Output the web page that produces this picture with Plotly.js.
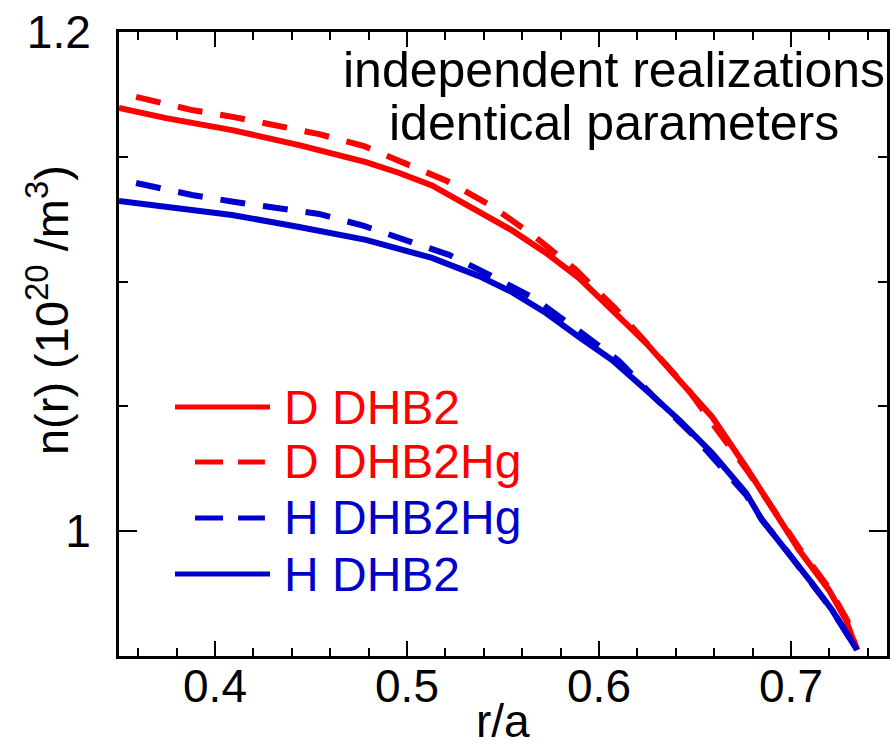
<!DOCTYPE html>
<html>
<head>
<meta charset="utf-8">
<script src="https://cdn.plot.ly/plotly-3.0.1.min.js"></script>
<style>
html,body{margin:0;padding:0;background:#fff;}
#chart{width:890px;height:748px;}
</style>
</head>
<body>
<div id="chart"></div>
<script>
// D DHB2 (red solid)
var dDHB2_x = [0.350, 0.3745, 0.4089, 0.4438, 0.4786, 0.4960, 0.5130, 0.5250, 0.5375, 0.5547, 0.5724, 0.5896, 0.6068, 0.6245, 0.6417, 0.6589, 0.6766, 0.6938, 0.7042, 0.7198, 0.7286, 0.7344];
var dDHB2_y = [1.1696, 1.1655, 1.1607, 1.1547, 1.1479, 1.1435, 1.1385, 1.1335, 1.1279, 1.1205, 1.1115, 1.1014, 1.0886, 1.0754, 1.0606, 1.0458, 1.0257, 1.0045, 0.9925, 0.9764, 0.9644, 0.9524];
// D DHB2Hg (red dashed)
var dDHB2Hg_x = [0.3589, 0.3875, 0.4099, 0.4323, 0.4542, 0.4776, 0.4984, 0.5208, 0.5432, 0.5661, 0.5875, 0.6083, 0.6271, 0.6458, 0.6609, 0.6781, 0.6938, 0.7042, 0.7198, 0.7292, 0.7344];
var dDHB2Hg_y = [1.1740, 1.1688, 1.1659, 1.1623, 1.1591, 1.1543, 1.1476, 1.1403, 1.1307, 1.1183, 1.1050, 1.0894, 1.0734, 1.0574, 1.0413, 1.0233, 1.0053, 0.9933, 0.9772, 0.9644, 0.9524];
// H DHB2Hg (blue dashed)
var hDHB2Hg_x = [0.3589, 0.3880, 0.4104, 0.4333, 0.4542, 0.4776, 0.4984, 0.5219, 0.5432, 0.5661, 0.5875, 0.6104, 0.6281, 0.6479, 0.6766, 0.6849, 0.6974, 0.7109, 0.7214, 0.7344];
var hDHB2Hg_y = [1.1395, 1.1347, 1.1319, 1.1295, 1.1271, 1.1223, 1.1171, 1.1107, 1.1026, 1.0934, 1.0814, 1.0682, 1.0542, 1.0393, 1.0145, 1.0045, 0.9925, 0.9792, 0.9684, 0.9524];
// H DHB2 (blue solid)
var hDHB2_x = [0.350, 0.3745, 0.4089, 0.4438, 0.4786, 0.5130, 0.5375, 0.5547, 0.5724, 0.5896, 0.6068, 0.6245, 0.6417, 0.6589, 0.6766, 0.6849, 0.6974, 0.7109, 0.7214, 0.7344];
var hDHB2_y = [1.1323, 1.1299, 1.1267, 1.1219, 1.1167, 1.1095, 1.1022, 1.0958, 1.0874, 1.0778, 1.0686, 1.0566, 1.0446, 1.0313, 1.0153, 1.0045, 0.9925, 0.9792, 0.9684, 0.9524];

var seriesNames = ['D DHB2', 'D DHB2Hg', 'H DHB2Hg', 'H DHB2'];
var xTitle = 'r/a';
var yTitle = 'n(r) (10<sup>20</sup> /m<sup>3</sup>)';
var noteLines = ['independent realizations', 'identical parameters'];

var RED = '#ff0000', BLUE = '#0000cc';
var FONT = 'Liberation Sans, Arial, Helvetica, sans-serif';

var traces = [
  {x: dDHB2_x, y: dDHB2_y, name: seriesNames[0], mode: 'lines', line: {color: RED, width: 6}},
  {x: dDHB2Hg_x, y: dDHB2Hg_y, name: seriesNames[1], mode: 'lines', line: {color: RED, width: 6, dash: '25px,18px'}},
  {x: hDHB2Hg_x, y: hDHB2Hg_y, name: seriesNames[2], mode: 'lines', line: {color: BLUE, width: 6, dash: '25px,18px'}},
  {x: hDHB2_x, y: hDHB2_y, name: seriesNames[3], mode: 'lines', line: {color: BLUE, width: 6}}
];

// manual legend (long line samples)
var legRows = [0.399, 0.3109, 0.2212, 0.1314];
var legColors = [RED, RED, BLUE, BLUE];
var legDash = ['solid', '28px,15px', '28px,15px', 'solid'];
var shapes = [], annotations = [];
for (var i = 0; i < 4; i++) {
  var solid = legDash[i] === 'solid';
  shapes.push({type: 'line', xref: 'paper', yref: 'paper',
    x0: solid ? 0.0729 : 0.099, x1: solid ? 0.1966 : 0.190,
    y0: legRows[i], y1: legRows[i],
    line: {color: legColors[i], width: 5, dash: legDash[i]}});
  annotations.push({xref: 'paper', yref: 'paper', x: 0.2122, y: legRows[i],
    xanchor: 'left', yanchor: 'middle', showarrow: false, text: seriesNames[i],
    font: {family: FONT, size: 48, color: legColors[i]}});
}
annotations.push({xref: 'paper', yref: 'paper', x: 0.6445, y: (656 - 70) / 624,
  xanchor: 'center', yanchor: 'middle', showarrow: false, text: noteLines[0],
  font: {family: FONT, size: 50, color: '#000'}});
annotations.push({xref: 'paper', yref: 'paper', x: 0.6445, y: (656 - 123) / 624,
  xanchor: 'center', yanchor: 'middle', showarrow: false, text: noteLines[1],
  font: {family: FONT, size: 50, color: '#000'}});
annotations.push({xref: 'paper', yref: 'paper', x: -0.0924, y: 0.5545,
  xanchor: 'center', yanchor: 'middle', showarrow: false, text: yTitle, textangle: -90,
  font: {family: FONT, size: 47, color: '#000'}});
annotations.push({xref: 'paper', yref: 'paper', x: 0.5, y: (656 - 748) / 624,
  xanchor: 'center', yanchor: 'bottom', showarrow: false, text: xTitle, borderpad: 0,
  font: {family: FONT, size: 46, color: '#000'}});

var layout = {
  width: 890, height: 748,
  margin: {l: 119, r: 3, t: 32, b: 92},
  paper_bgcolor: '#fff', plot_bgcolor: '#fff',
  showlegend: false,
  font: {family: FONT, color: '#000'},
  xaxis: {
    range: [0.35, 0.75], tick0: 0, dtick: 0.1, ticks: 'inside', ticklen: 15, tickwidth: 2.5,
    tickcolor: '#000', showline: true, linewidth: 3, linecolor: '#000', mirror: 'ticks',
    showgrid: false, zeroline: false, tickfont: {family: FONT, size: 46},
    ticklabelstandoff: -12,
    minor: {dtick: 0.02, ticks: 'inside', ticklen: 8, tickwidth: 2, tickcolor: '#000', showgrid: false}
  },
  yaxis: {
    range: [0.95, 1.2], tick0: 0, dtick: 0.2, ticks: 'inside', ticklen: 18, tickwidth: 2.5,
    tickcolor: '#000', showline: true, linewidth: 3, linecolor: '#000', mirror: 'ticks',
    showgrid: false, zeroline: false, tickfont: {family: FONT, size: 46},
    ticklabelstandoff: 16,
    minor: {dtick: 0.05, ticks: 'inside', ticklen: 9, tickwidth: 2, tickcolor: '#000', showgrid: false}
  },
  shapes: shapes,
  annotations: annotations
};

Plotly.newPlot('chart', traces, layout, {displayModeBar: false, staticPlot: true});
</script>
</body>
</html>
